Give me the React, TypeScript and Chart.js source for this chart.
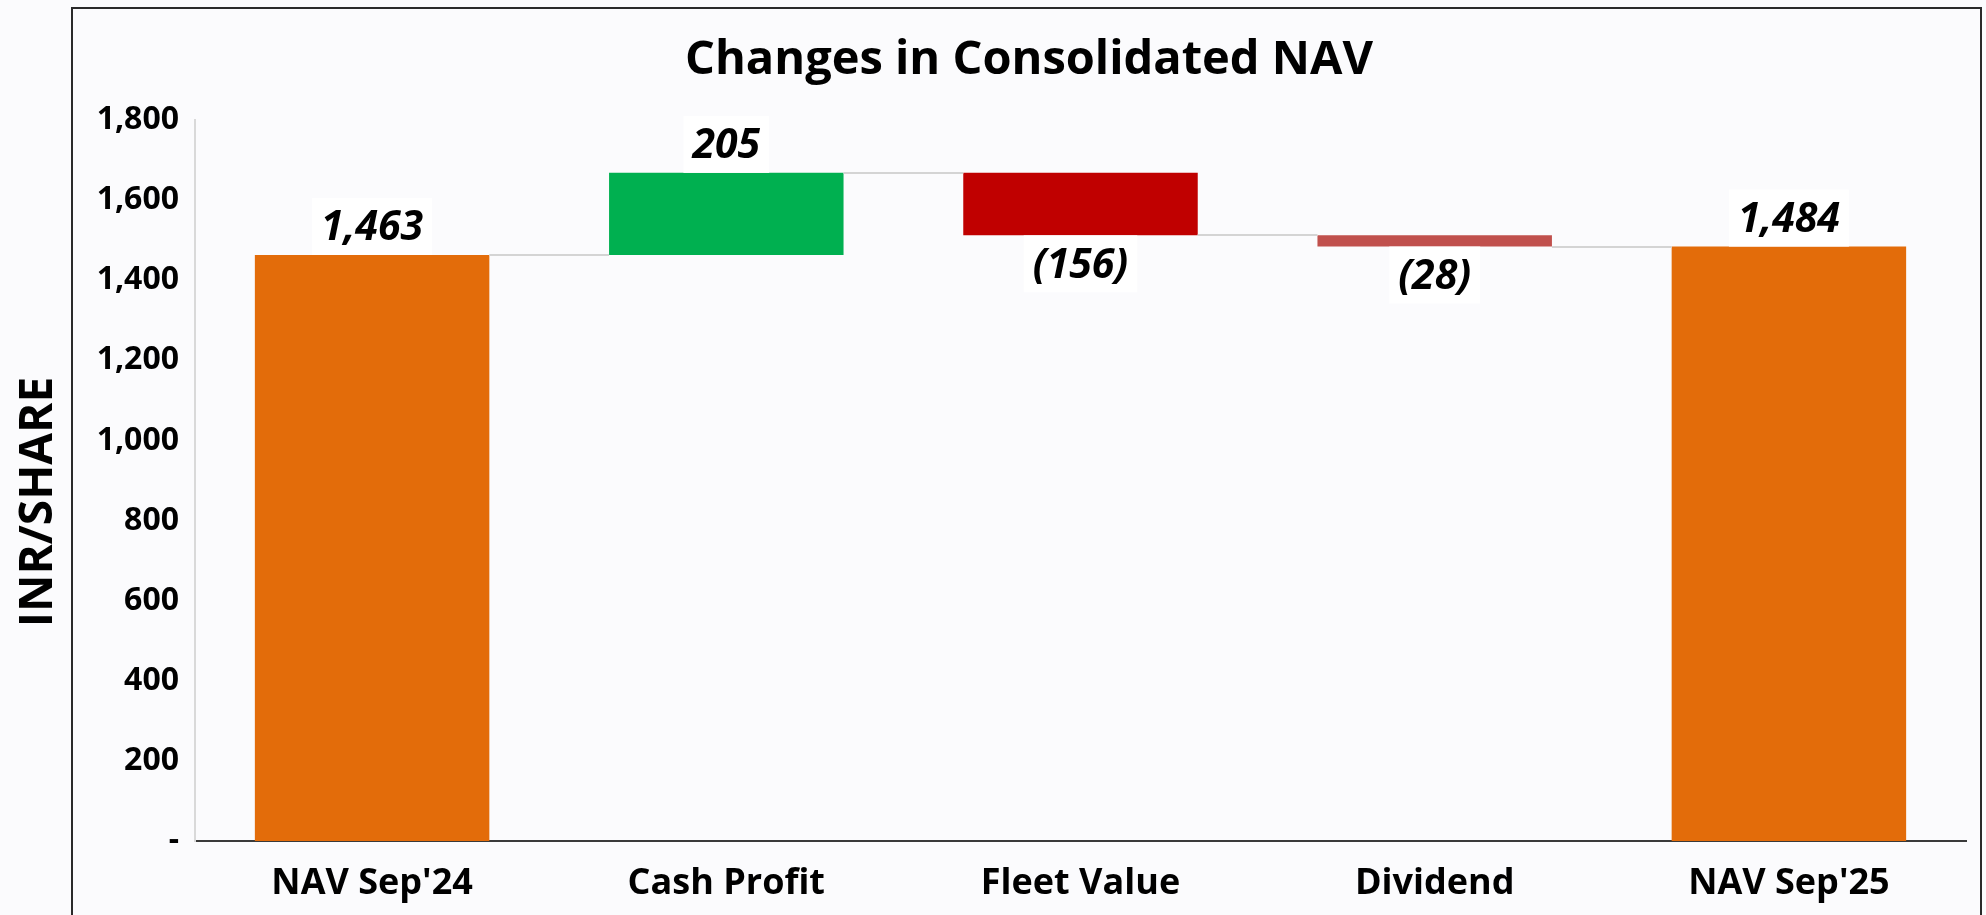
import React, { useEffect, useRef } from 'react';
import { Chart, registerables } from 'chart.js';

Chart.register(...registerables);

const categories = ["NAV Sep'24", 'Cash Profit', 'Fleet Value', 'Dividend', "NAV Sep'25"];
const startValue = 1463;
const changes = [205, -156, -28];
const endValue = 1484;
const barColors = ['#E36C0A', '#00B050', '#C00000', '#C0504D', '#E36C0A'];
const yMin = 0;
const yMax = 1800;
const yStep = 200;
const chartTitle = 'Changes in Consolidated NAV';
const yAxisTitle = 'INR/SHARE';

const FONT = '"Open Sans", "Noto Sans", sans-serif';

// Build floating ranges, label values and connector levels from the arrays above
const ranges: [number, number][] = [];
const labelValues: number[] = [];
const levels: number[] = [];
ranges.push([0, startValue]);
labelValues.push(startValue);
let level = startValue;
levels.push(level);
for (const c of changes) {
  const next = level + c;
  ranges.push([Math.min(level, next), Math.max(level, next)]);
  labelValues.push(c);
  level = next;
  levels.push(level);
}
ranges.push([0, endValue]);
labelValues.push(endValue);

function fmt(v: number): string {
  const s = Math.abs(v).toLocaleString('en-US');
  return v < 0 ? `(${s})` : s;
}

const waterfallPlugin = {
  id: 'waterfallExtras',
  afterDatasetsDraw(chart: any) {
    const ctx: CanvasRenderingContext2D = chart.ctx;
    const meta = chart.getDatasetMeta(0);
    const y = chart.scales.y;
    ctx.save();
    // connectors
    ctx.strokeStyle = '#d4d4d4';
    ctx.lineWidth = 2;
    for (let i = 0; i < meta.data.length - 1; i++) {
      const a = meta.data[i];
      const b = meta.data[i + 1];
      const py = Math.round(y.getPixelForValue(levels[i]));
      ctx.beginPath();
      ctx.moveTo(a.x + a.width / 2, py);
      ctx.lineTo(b.x - b.width / 2, py);
      ctx.stroke();
    }
    // data labels
    ctx.font = `italic bold 41px ${FONT}`;
    ctx.textAlign = 'center';
    ctx.textBaseline = 'middle';
    for (let i = 0; i < meta.data.length; i++) {
      const bar = meta.data[i];
      const v = labelValues[i];
      const text = fmt(v);
      const w = ctx.measureText(text).width + 18;
      const h = 57;
      const top = v >= 0 ? Math.min(bar.y, bar.base) - h : Math.max(bar.y, bar.base);
      ctx.fillStyle = '#ffffff';
      ctx.fillRect(bar.x - w / 2, top, w, h);
      ctx.fillStyle = '#000000';
      ctx.fillText(text, bar.x, top + h / 2 + 2);
    }
    // chart title
    ctx.font = `bold 47px ${FONT}`;
    ctx.textBaseline = 'alphabetic';
    ctx.textAlign = 'center';
    ctx.fillStyle = '#000000';
    ctx.fillText(chartTitle, 1029, 74);
    // y-axis title
    ctx.save();
    ctx.font = `bold 46px ${FONT}`;
    ctx.translate(51.5, 502);
    ctx.rotate(-Math.PI / 2);
    ctx.textAlign = 'center';
    ctx.textBaseline = 'alphabetic';
    ctx.fillText(yAxisTitle, 0, 0);
    ctx.restore();
    // outer border
    ctx.fillStyle = '#2a2a2a';
    ctx.fillRect(71, 7, 1911, 2);
    ctx.fillRect(71, 7, 2, 930);
    ctx.fillRect(1980, 7, 2, 930);
    ctx.restore();
  },
};

export default function App() {
  const canvasRef = useRef<HTMLCanvasElement | null>(null);

  useEffect(() => {
    if (!canvasRef.current) return;
    const chart = new Chart(canvasRef.current, {
      type: 'bar',
      data: {
        labels: categories,
        datasets: [
          {
            data: ranges as any,
            backgroundColor: barColors,
            borderWidth: 0,
            borderSkipped: false,
            categoryPercentage: 1,
            barPercentage: 0.662,
          },
        ],
      },
      options: {
        animation: false,
        responsive: false,
        maintainAspectRatio: false,
        layout: { padding: { left: 0, right: 20, top: 120, bottom: 0 } },
        plugins: {
          legend: { display: false },
          tooltip: { enabled: false },
          title: { display: false },
        },
        scales: {
          x: {
            grid: { display: false, drawTicks: false },
            border: { display: true, color: '#3a3a3a', width: 2 },
            ticks: {
              color: '#000000',
              padding: 21,
              maxRotation: 0,
              font: { family: FONT, size: 36, weight: 'bold' },
            },
            afterFit: (s: any) => {
              s.height = 74;
            },
          },
          y: {
            min: yMin,
            max: yMax,
            grid: { display: false, drawTicks: false },
            border: { display: true, color: '#d9d9d9', width: 2 },
            ticks: {
              stepSize: yStep,
              padding: 16,
              color: '#000000',
              font: { family: FONT, size: 32, weight: 'bold' },
              callback: (v: any) => (Number(v) === 0 ? '-' : Number(v).toLocaleString('en-US')),
            },
            afterFit: (s: any) => {
              s.width = 195;
            },
          },
        },
      },
      plugins: [waterfallPlugin],
    });
    return () => chart.destroy();
  }, []);

  return (
    <div
      style={{
        position: 'fixed',
        left: 0,
        top: 0,
        width: 1986,
        height: 915,
        background: '#fbfbfd',
        overflow: 'hidden',
      }}
    >
      <canvas ref={canvasRef} width={1986} height={915} style={{ display: 'block', width: 1986, height: 915 }} />
    </div>
  );
}
